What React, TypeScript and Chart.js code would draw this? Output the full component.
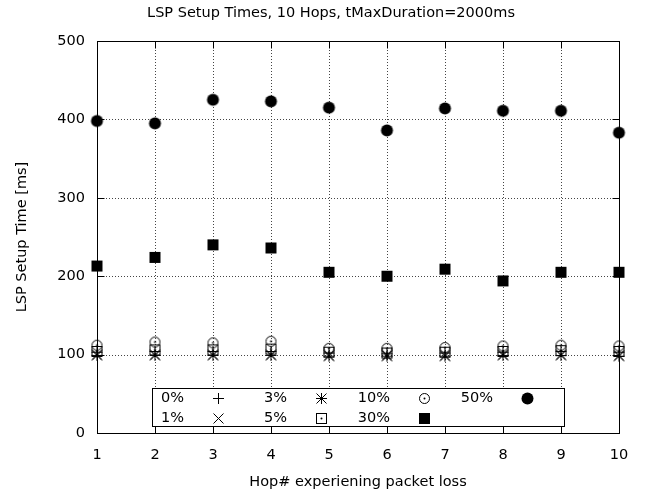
import React, { useEffect, useRef } from "react";
import { Chart, registerables } from "chart.js";

Chart.register(...registerables);

// ---- data ----
const hops = [1, 2, 3, 4, 5, 6, 7, 8, 9, 10];
const loss0 = [103, 104, 104, 104, 102, 101, 102, 103, 104, 103];
const loss1 = [100, 100, 100, 100, 99, 99, 99, 100, 100, 99];
const loss3 = [99, 99, 99, 99, 98, 98, 98, 99, 99, 98];
const loss5 = [104, 106, 106, 107, 103, 102, 103, 104, 105, 104];
const loss10 = [112, 116, 115, 117, 108, 108, 109, 111, 112, 111];
const loss30 = [213, 224, 240, 236, 205, 200, 209, 194, 205, 205];
const loss50 = [398, 395, 425, 423, 415, 386, 414, 411, 411, 383];

const seriesLabels = ["0%", "1%", "3%", "5%", "10%", "30%", "50%"];
const seriesValues = [loss0, loss1, loss3, loss5, loss10, loss30, loss50];
const seriesMarkers = ["plus", "cross", "star", "boxdot", "circdot", "box", "dot"];

const titleText = "LSP Setup Times, 10 Hops, tMaxDuration=2000ms";
const xTitle = "Hop# experiening packet loss";
const yTitle = "LSP Setup Time [ms]";
const yTicks = [0, 100, 200, 300, 400, 500];

const FONT = "'DejaVu Sans', sans-serif";
const FS = 14.5;

function makeMarker(kind: string): HTMLCanvasElement {
  const s = 15;
  const c = document.createElement("canvas");
  c.width = s;
  c.height = s;
  const g = c.getContext("2d")!;
  g.strokeStyle = "#000";
  g.fillStyle = "#000";
  g.lineWidth = 1;
  const m = 7.5;
  const r = 5;
  const line = (x1: number, y1: number, x2: number, y2: number) => {
    g.beginPath();
    g.moveTo(x1, y1);
    g.lineTo(x2, y2);
    g.stroke();
  };
  const dot = () => {
    g.beginPath();
    g.arc(m, m, 1, 0, Math.PI * 2);
    g.fill();
  };
  switch (kind) {
    case "plus":
      line(m - r - 0.5, m, m + r + 0.5, m);
      line(m, m - r - 0.5, m, m + r + 0.5);
      break;
    case "cross":
      line(m - r, m - r, m + r, m + r);
      line(m - r, m + r, m + r, m - r);
      break;
    case "star":
      line(m - r - 0.5, m, m + r + 0.5, m);
      line(m, m - r - 0.5, m, m + r + 0.5);
      line(m - r, m - r, m + r, m + r);
      line(m - r, m + r, m + r, m - r);
      break;
    case "boxdot":
      g.strokeRect(m - r, m - r, 2 * r, 2 * r);
      dot();
      break;
    case "circdot":
      g.beginPath();
      g.arc(m, m, r, 0, Math.PI * 2);
      g.stroke();
      dot();
      break;
    case "box":
      g.fillRect(2, 2, 11, 11);
      break;
    case "dot":
      g.beginPath();
      g.arc(m, m, 6, 0, Math.PI * 2);
      g.fill();
      break;
  }
  return c;
}

export default function App() {
  const ref = useRef<HTMLCanvasElement | null>(null);

  useEffect(() => {
    const canvas = ref.current;
    if (!canvas) return;
    const markers = seriesMarkers.map(makeMarker);

    const decor = {
      id: "decor",
      beforeDatasetsDraw(chart: any) {
        const { ctx, chartArea: a, scales } = chart;
        const xs = scales.x;
        const ys = scales.y;
        ctx.save();
        ctx.strokeStyle = "#444";
        ctx.lineWidth = 1;
        ctx.setLineDash([1, 2]);
        for (let h = 2; h <= 9; h++) {
          const px = Math.round(xs.getPixelForValue(h)) + 0.5;
          ctx.beginPath();
          ctx.moveTo(px, a.top);
          ctx.lineTo(px, a.bottom);
          ctx.stroke();
        }
        for (const v of yTicks) {
          if (v === 0 || v === 500) continue;
          const py = Math.round(ys.getPixelForValue(v)) + 0.5;
          ctx.beginPath();
          ctx.moveTo(a.left, py);
          ctx.lineTo(a.right, py);
          ctx.stroke();
        }
        ctx.restore();
      },
      afterDatasetsDraw(chart: any) {
        const { ctx, chartArea: a, scales } = chart;
        const xs = scales.x;
        const ys = scales.y;
        ctx.save();
        // legend box
        const lx = 152.5, ly = 388.5, lw = 412, lh = 38;
        ctx.fillStyle = "#fff";
        ctx.fillRect(lx, ly, lw, lh);
        ctx.strokeStyle = "#000";
        ctx.lineWidth = 1;
        ctx.strokeRect(lx, ly, lw, lh);
        ctx.font = `${FS}px ${FONT}`;
        ctx.fillStyle = "#000";
        ctx.textAlign = "right";
        ctx.textBaseline = "middle";
        seriesLabels.forEach((lab, i) => {
          const col = Math.floor(i / 2);
          const row = i % 2;
          const ty = row === 0 ? 398 : 418;
          const tx = 184 + 103 * col;
          ctx.fillText(lab, tx, ty);
          const mk = markers[i];
          ctx.drawImage(mk, 218 + 103 * col - 7, ty - 7);
        });
        // border
        const L = Math.round(a.left) + 0.5;
        const R = Math.round(a.right) + 0.5;
        const T = Math.round(a.top) + 0.5;
        const B = Math.round(a.bottom) + 0.5;
        ctx.strokeRect(L, T, R - L, B - T);
        // inward ticks
        const tl = 7;
        for (const h of hops) {
          const px = Math.round(xs.getPixelForValue(h)) + 0.5;
          ctx.beginPath();
          ctx.moveTo(px, B);
          ctx.lineTo(px, B - tl);
          ctx.moveTo(px, T);
          ctx.lineTo(px, T + tl);
          ctx.stroke();
        }
        for (const v of yTicks) {
          const py = Math.round(ys.getPixelForValue(v)) + 0.5;
          ctx.beginPath();
          ctx.moveTo(L, py);
          ctx.lineTo(L + tl, py);
          ctx.moveTo(R, py);
          ctx.lineTo(R - tl, py);
          ctx.stroke();
        }
        // titles
        ctx.textAlign = "center";
        ctx.textBaseline = "middle";
        ctx.fillText(titleText, 331, 13);
        ctx.fillText(xTitle, (a.left + a.right) / 2, 482);
        ctx.save();
        ctx.translate(22, (a.top + a.bottom) / 2);
        ctx.rotate(-Math.PI / 2);
        ctx.fillText(yTitle, 0, 0);
        ctx.restore();
        ctx.restore();
      },
    };

    const chart = new Chart(canvas, {
      type: "scatter",
      data: {
        datasets: seriesLabels.map((lab, i) => ({
          label: lab,
          data: hops.map((h, j) => ({ x: h, y: seriesValues[i][j] })),
          pointStyle: markers[i] as any,
          pointRadius: 5,
          pointHoverRadius: 5,
          showLine: false,
          clip: false as any,
          borderColor: "#000",
          backgroundColor: "#000",
        })),
      },
      options: {
        animation: false,
        responsive: false,
        devicePixelRatio: 1,
        events: [],
        layout: { padding: { left: 0, right: 34, top: 41, bottom: 0 } },
        plugins: {
          legend: { display: false },
          title: { display: false },
          tooltip: { enabled: false },
        },
        scales: {
          x: {
            type: "linear",
            min: 1,
            max: 10,
            grid: { display: false, drawTicks: false },
            border: { display: false },
            ticks: {
              stepSize: 1,
              color: "#000",
              font: { family: FONT, size: FS },
              padding: 14,
              maxRotation: 0,
            },
            afterFit: (s: any) => {
              s.height = 64;
            },
          },
          y: {
            type: "linear",
            min: 0,
            max: 500,
            grid: { display: false, drawTicks: false },
            border: { display: false },
            ticks: {
              stepSize: 100,
              color: "#000",
              font: { family: FONT, size: FS },
              padding: 12,
            },
            afterFit: (s: any) => {
              s.width = 97;
            },
          },
        },
      },
      plugins: [decor],
    });

    return () => chart.destroy();
  }, []);

  return (
    <canvas
      ref={ref}
      width={653}
      height={497}
      style={{ position: "absolute", left: 0, top: 0, width: 653, height: 497, background: "#fff" }}
    />
  );
}
